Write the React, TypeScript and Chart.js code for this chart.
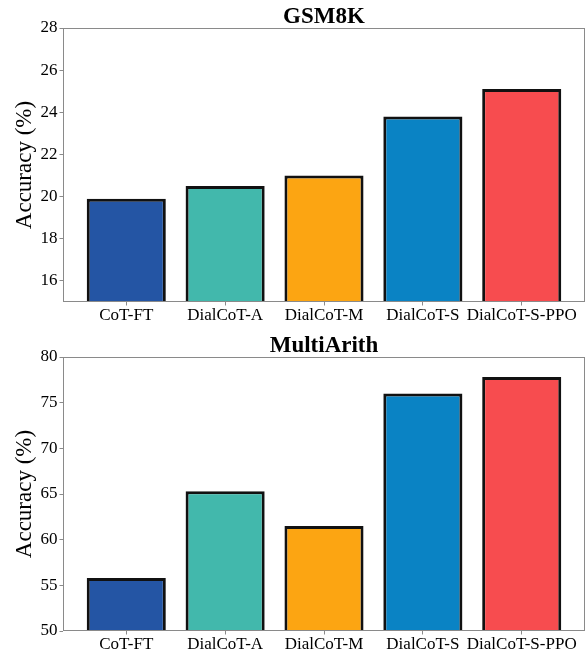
import React, { useEffect, useRef } from "react";
import { Chart, registerables } from "chart.js";

Chart.register(...registerables);

const categories = ["CoT-FT", "DialCoT-A", "DialCoT-M", "DialCoT-S", "DialCoT-S-PPO"];
const barColors = ["#2455A4", "#42B8AC", "#FCA512", "#0A83C4", "#F74C4F"];
const gsm8kValues = [19.9, 20.5, 21.0, 23.8, 25.1];
const multiArithValues = [55.8, 65.3, 61.5, 76.0, 77.8];
const gsm8kTicks = [16, 18, 20, 22, 24, 26, 28];
const multiArithTicks = [50, 55, 60, 65, 70, 75, 80];

const FONT = "'Liberation Serif', 'Times New Roman', serif";
const SPINE = "#8a8a8a";

type PanelProps = {
  title: string;
  values: number[];
  yTicks: number[];
  yMin: number;
  yMax: number;
  height: number;
  padTop: number;
  xAxisHeight: number;
};

function Panel({ title, values, yTicks, yMin, yMax, height, padTop, xAxisHeight }: PanelProps) {
  const ref = useRef<HTMLCanvasElement | null>(null);
  useEffect(() => {
    if (!ref.current) return;
    const framePlugin = {
      id: "frameAndTitle",
      afterDatasetsDraw(chart: any) {
        const { ctx, chartArea } = chart;
        ctx.save();
        ctx.strokeStyle = SPINE;
        ctx.lineWidth = 1;
        ctx.strokeRect(
          Math.round(chartArea.left) + 0.5,
          Math.round(chartArea.top) + 0.5,
          Math.round(chartArea.right - chartArea.left) - 1,
          Math.round(chartArea.bottom - chartArea.top) - 1
        );
        ctx.fillStyle = "#000";
        ctx.font = `bold 23px ${FONT}`;
        ctx.textAlign = "center";
        ctx.textBaseline = "alphabetic";
        ctx.fillText(title, (chartArea.left + chartArea.right) / 2, chartArea.top - 5);
        ctx.restore();
      },
    };
    const chart = new Chart(ref.current, {
      type: "bar",
      data: {
        datasets: [
          {
            data: values.map((v, i) => ({ x: i, y: v })),
            backgroundColor: barColors,
            borderColor: "#111111",
            borderWidth: 3,
            borderSkipped: false,
            categoryPercentage: 1,
            barPercentage: 0.8,
          },
        ],
      },
      options: {
        responsive: false,
        animation: false,
        layout: { padding: { top: padTop, right: 3, left: 0, bottom: 0 } },
        plugins: { legend: { display: false }, tooltip: { enabled: false }, title: { display: false } },
        scales: {
          x: {
            type: "linear",
            offset: false,
            min: -0.64,
            max: 4.64,
            afterBuildTicks: (scale: any) => {
              scale.ticks = categories.map((_, i) => ({ value: i }));
            },
            afterFit: (scale: any) => {
              scale.height = xAxisHeight;
            },
            ticks: {
              autoSkip: false,
              maxRotation: 0,
              minRotation: 0,
              padding: 2,
              color: "#000",
              font: { family: FONT, size: 17, lineHeight: 1 },
              callback: (v: any) => categories[Math.round(Number(v))] ?? "",
            },
            grid: { display: true, offset: false, drawOnChartArea: false, drawTicks: true, tickLength: 3.5, color: SPINE },
            border: { display: false },
          },
          y: {
            type: "linear",
            min: yMin,
            max: yMax,
            afterBuildTicks: (scale: any) => {
              scale.ticks = yTicks.map((v) => ({ value: v }));
            },
            afterFit: (scale: any) => {
              scale.width = 63;
            },
            ticks: {
              padding: 2,
              color: "#000",
              font: { family: FONT, size: 17 },
            },
            grid: { display: true, drawOnChartArea: false, drawTicks: true, tickLength: 3.5, color: SPINE },
            border: { display: false },
            title: {
              display: true,
              text: "Accuracy (%)",
              color: "#000",
              font: { family: FONT, size: 23 },
              padding: { top: 11, bottom: 0 },
            },
          },
        },
      },
      plugins: [framePlugin],
    } as any);
    return () => chart.destroy();
  }, []);
  return <canvas ref={ref} width={588} height={height} style={{ display: "block" }} />;
}

export default function App() {
  return (
    <div style={{ position: "absolute", left: 0, top: 0, width: 588, height: 655, background: "#fff" }}>
      <Panel title="GSM8K" values={gsm8kValues} yTicks={gsm8kTicks} yMin={15} yMax={28} height={325} padTop={28} xAxisHeight={23} />
      <Panel title="MultiArith" values={multiArithValues} yTicks={multiArithTicks} yMin={50} yMax={80} height={330} padTop={32} xAxisHeight={24} />
    </div>
  );
}
